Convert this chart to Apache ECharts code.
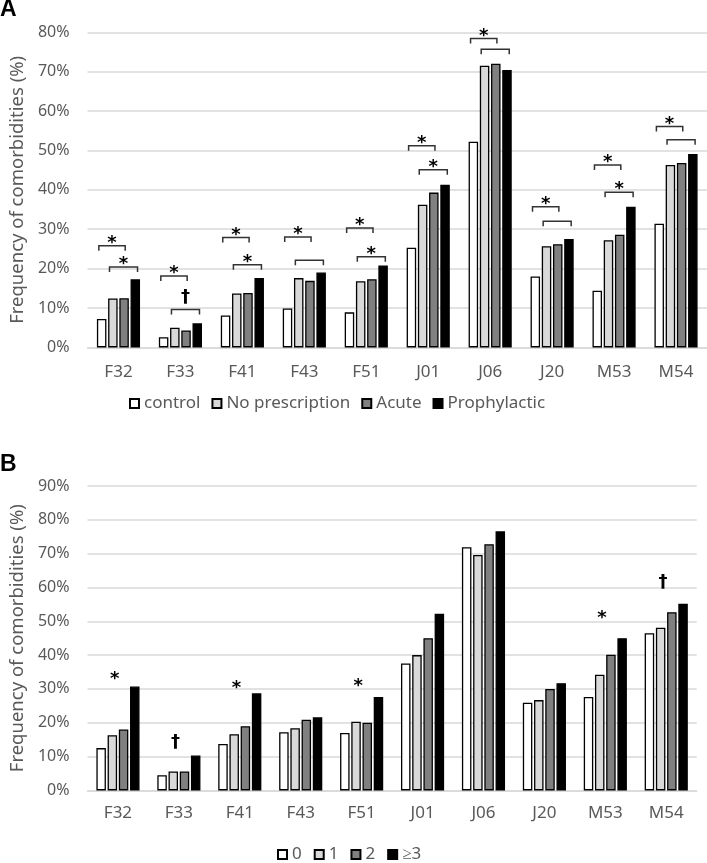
<!DOCTYPE html>
<html>
<head>
<meta charset="utf-8">
<script src="https://cdn.jsdelivr.net/npm/echarts@6/dist/echarts.min.js"></script>
<style>
html,body{margin:0;padding:0;background:#fff;}
#chart{width:707px;height:863px;}
</style>
</head>
<body>
<div id="chart"></div>
<script>
// ---------- data ----------
const categories = ['F32','F33','F41','F43','F51','J01','J06','J20','M53','M54'];

// Panel A
const namesA = ['control','No prescription','Acute','Prophylactic'];
const controlA  = [7.2, 2.6, 8.1, 9.9, 8.9, 25.3, 52.2, 18.0, 14.4, 31.4];
const noPrescA  = [12.4, 5.0, 13.7, 17.6, 16.8, 36.2, 71.5, 25.7, 27.2, 46.3];
const acuteA    = [12.5, 4.3, 13.8, 16.9, 17.3, 39.3, 72.0, 26.2, 28.6, 46.8];
const prophA    = [17.3, 6.1, 17.6, 19.0, 20.8, 41.3, 70.4, 27.5, 35.7, 49.1];
const upperBracketA = [25.8, 18.1, 27.9, 28.0, 30.3, 51.2, 78.4, 35.7, 46.3, 56.1];
const upperMarkA    = ['*','*','*','*','*','*','*','*','*','*'];
const lowerBracketA = [20.4, 9.6, 21.0, 22.1, 23.0, 45.1, 75.7, 32.0, 39.4, 52.7];
const lowerMarkA    = ['*','\u2020','*','','*','*','','','*',''];

// Panel B
const namesB = ['0','1','2','\u22653'];
const count0B = [12.5, 4.5, 13.7, 17.2, 17.0, 37.5, 71.9, 25.9, 27.6, 46.5];
const count1B = [16.3, 5.6, 16.6, 18.4, 20.3, 40.0, 69.6, 26.7, 34.2, 48.1];
const count2B = [18.0, 5.6, 19.0, 20.9, 20.0, 45.0, 72.8, 30.0, 40.1, 52.7];
const count3B = [30.7, 10.3, 28.7, 21.6, 27.6, 52.2, 76.6, 31.7, 45.0, 55.2];
const markB   = ['*','\u2020','*','','*','','','','*','\u2020'];
const markYB  = [34.6, 14.4, 31.9, null, 32.4, null, null, null, 52.4, 61.7];

const yTitle = 'Frequency of comorbidities (%)';

// ---------- style ----------
const FONT = 'Noto Sans';
const BAR_W = 9.5;
const BAR_GAP = 0.18;
const PITCH = BAR_W * (1 + BAR_GAP);
const fills = ['#ffffff', '#d9d9d9', '#808080', '#000000'];
const GRID_COLOR = '#d9d9d9';
const TEXT_COLOR = '#595959';
const MARK_FONT = 'bold 18px "DejaVu Sans"';
// vertical shift (px) from glyph visual centre to text bottom
const GLYPH_SHIFT = { '*': 14.5, '\u2020': 9.5 };

function barSeries(name, data, idx, axisIdx) {
  return {
    type: 'bar', name: name, data: data,
    xAxisIndex: axisIdx, yAxisIndex: axisIdx,
    barWidth: BAR_W, barGap: (BAR_GAP * 100) + '%',
    itemStyle: { color: fills[idx], borderColor: '#000', borderWidth: 1.3 },
    emphasis: { disabled: true },
    animation: false
  };
}

const marksBySeries = {};

// bracket: row = [catIndex, yValue, startBarPos, endBarPos]
function renderBracket(params, api) {
  const c = api.coord([api.value(0), api.value(1)]);
  const x1 = c[0] + (api.value(2) - 1.5) * PITCH;
  const x2 = c[0] + (api.value(3) - 1.5) * PITCH;
  const y = c[1];
  const mark = marksBySeries[params.seriesIndex][params.dataIndex];
  const children = [{
    type: 'polyline',
    shape: { points: [[x1, y + 5], [x1, y], [x2, y], [x2, y + 5]] },
    style: { stroke: '#333', lineWidth: 1.5, fill: null }
  }];
  if (mark) {
    const gap = mark === '*' ? 8 : 13;
    children.push({
      type: 'text',
      style: {
        x: (x1 + x2) / 2, y: y - gap + GLYPH_SHIFT[mark], text: mark,
        fill: '#000', font: MARK_FONT,
        align: 'center', verticalAlign: 'bottom'
      }
    });
  }
  return { type: 'group', children: children };
}

// mark-only: row = [catIndex, yValue, barPos]
function renderMark(params, api) {
  const c = api.coord([api.value(0), api.value(1)]);
  const x = c[0] + (api.value(2) - 1.5) * PITCH;
  const mark = marksBySeries[params.seriesIndex][params.dataIndex];
  return {
    type: 'text',
    style: {
      x: x, y: c[1] + GLYPH_SHIFT[mark], text: mark,
      fill: '#000', font: MARK_FONT,
      align: 'center', verticalAlign: 'bottom'
    }
  };
}

const upperRows = [], upperMarks = [];
const lowerRows = [], lowerMarks = [];
categories.forEach((c, i) => {
  upperRows.push([i, upperBracketA[i], -0.25, 2.1]); upperMarks.push(upperMarkA[i]);
  lowerRows.push([i, lowerBracketA[i], 0.7, 3.2]); lowerMarks.push(lowerMarkA[i]);
});
const markRows = [], markTexts = [];
categories.forEach((c, i) => {
  if (markB[i]) { markRows.push([i, markYB[i], 1.2]); markTexts.push(markB[i]); }
});

function yAxis(gridIdx, max) {
  return {
    type: 'value', gridIndex: gridIdx, min: 0, max: max, interval: 10,
    name: yTitle, nameLocation: 'middle', nameGap: 56, nameRotate: 90,
    nameTextStyle: { fontFamily: FONT, fontSize: 18.5, color: TEXT_COLOR },
    axisLine: { show: false }, axisTick: { show: false },
    axisLabel: { formatter: '{value}%', fontFamily: FONT, fontSize: 16, color: TEXT_COLOR, margin: 18 },
    splitLine: { lineStyle: { color: GRID_COLOR, width: 1.5 } }
  };
}
function xAxis(gridIdx, margin) {
  return {
    type: 'category', gridIndex: gridIdx, data: categories,
    axisLine: { lineStyle: { color: GRID_COLOR, width: 1.5 } },
    axisTick: { show: false },
    axisLabel: { fontFamily: FONT, fontSize: 17, color: TEXT_COLOR, margin: margin }
  };
}

const series = [
  barSeries(namesA[0], controlA, 0, 0),
  barSeries(namesA[1], noPrescA, 1, 0),
  barSeries(namesA[2], acuteA, 2, 0),
  barSeries(namesA[3], prophA, 3, 0),
  barSeries(namesB[0], count0B, 0, 1),
  barSeries(namesB[1], count1B, 1, 1),
  barSeries(namesB[2], count2B, 2, 1),
  barSeries(namesB[3], count3B, 3, 1),
  { type: 'custom', xAxisIndex: 0, yAxisIndex: 0, renderItem: renderBracket, data: upperRows, z: 5, animation: false, silent: true },
  { type: 'custom', xAxisIndex: 0, yAxisIndex: 0, renderItem: renderBracket, data: lowerRows, z: 5, animation: false, silent: true },
  { type: 'custom', xAxisIndex: 1, yAxisIndex: 1, renderItem: renderMark, data: markRows, z: 5, animation: false, silent: true }
];
marksBySeries[8] = upperMarks;
marksBySeries[9] = lowerMarks;
marksBySeries[10] = markTexts;

const legendText = { fontFamily: FONT, fontSize: 17, color: TEXT_COLOR };
const titleText = { fontFamily: 'Liberation Sans', fontWeight: 'bold', fontSize: 23, color: '#000' };
const option = {
  animation: false,
  backgroundColor: '#fff',
  title: [
    { text: 'A', left: 0, top: -2, padding: 0, textStyle: titleText },
    { text: 'B', left: 0, top: 453, padding: 0, textStyle: titleText }
  ],
  grid: [
    { left: 76.5, right: 0, top: 32.3, bottom: 515.6, containLabel: false },
    { left: 76.7, right: 10.3, top: 486, bottom: 72.6, containLabel: false }
  ],
  xAxis: [xAxis(0, 16), xAxis(1, 14)],
  yAxis: [yAxis(0, 80), yAxis(1, 90)],
  legend: [
    { data: namesA, top: 395, left: 129, padding: 0, itemWidth: 9, itemHeight: 9, itemGap: 11, icon: 'rect', textStyle: legendText, selectedMode: false },
    { data: namesB, top: 846, left: 277, padding: 0, itemWidth: 9, itemHeight: 9, itemGap: 12, icon: 'rect', textStyle: legendText, selectedMode: false }
  ],
  series: series
};

const chart = echarts.init(document.getElementById('chart'), null, { renderer: 'canvas' });
chart.setOption(option);
</script>
</body>
</html>
